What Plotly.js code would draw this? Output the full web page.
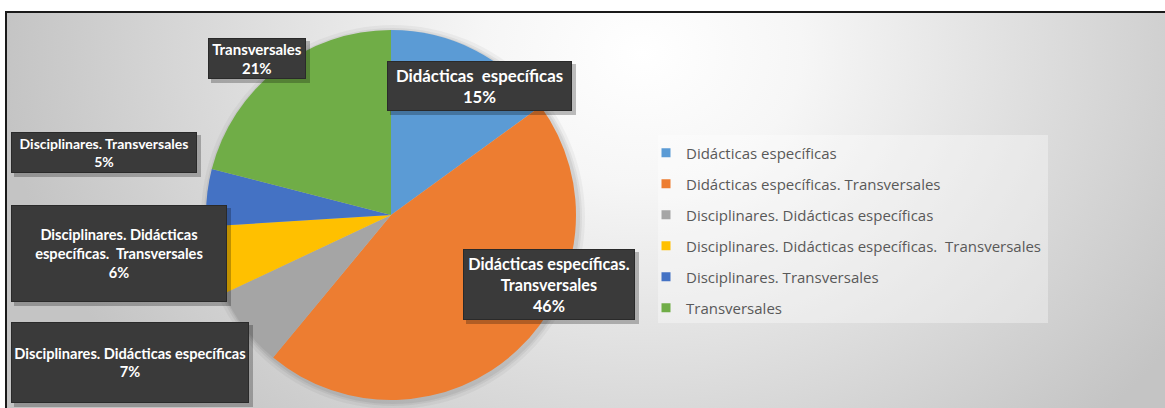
<!DOCTYPE html>
<html><head><meta charset="utf-8">
<script src="https://cdn.plot.ly/plotly-3.0.1.min.js"></script>
<style>
html,body{margin:0;padding:0;background:#fff;}
#wrap{position:relative;width:1165px;height:408px;overflow:hidden;background:#fff;}
#bg{position:absolute;left:5px;top:11px;width:1160px;height:397px;border-left:2px solid #1a1a1a;border-top:2px solid #1a1a1a;box-sizing:border-box;
background:radial-gradient(ellipse 640px 520px at 635px 40px,#ffffff 0%,#f6f6f6 25%,#c4c4c4 100%);}
#chart{position:absolute;left:0;top:0;width:1165px;height:408px;}
</style></head>
<body>
<div id="wrap"><div id="bg"></div><div id="chart"></div></div>
<script>
// ---- data ----
const categories = [
  "Didácticas específicas",
  "Didácticas específicas. Transversales",
  "Disciplinares. Didácticas específicas",
  "Disciplinares. Didácticas específicas.  Transversales",
  "Disciplinares. Transversales",
  "Transversales"
];
const values = [15, 46, 7, 6, 5, 21];
const labelLines = [
  "Didácticas  específicas",
  "Didácticas específicas.<br>Transversales",
  "Disciplinares. Didácticas específicas",
  "Disciplinares. Didácticas<br>específicas.  Transversales",
  "Disciplinares. Transversales",
  "Transversales"
];

// ---- style / layout ----
const colors = ["#5B9BD5", "#ED7D31", "#A5A5A5", "#FFC000", "#4472C4", "#70AD47"];
const W = 1165, H = 408;
const pieCx = 391, pieCy = 215, pieR = 185;
const boxes = [
  {cx: 479.5, cy: 86,    w: 185, h: 50, fs: 16.8},
  {cx: 549,   cy: 284.5, w: 172, h: 71, fs: 16.2},
  {cx: 130,   cy: 362.5, w: 238, h: 81, fs: 14.6},
  {cx: 119,   cy: 253.5, w: 216, h: 97, fs: 14.6},
  {cx: 104,   cy: 152.5, w: 186, h: 41, fs: 14},
  {cx: 257,   cy: 58.5,  w: 98,  h: 41, fs: 15}
];
const total = values.reduce((a, b) => a + b, 0);
const px = x => x / W, py = y => 1 - y / H;

const pie = {
  type: 'pie',
  labels: categories,
  values: values,
  sort: false,
  direction: 'clockwise',
  rotation: 0,
  textinfo: 'none',
  hoverinfo: 'label+percent',
  showlegend: false,
  marker: {colors: colors, line: {width: 0}},
  domain: {x: [px(pieCx - pieR), px(pieCx + pieR)], y: [py(pieCy + pieR), py(pieCy - pieR)]}
};

const legendTraces = categories.map((c, i) => ({
  type: 'scatter', x: [null], y: [null], mode: 'markers', name: c,
  legendgroup: 'g' + i, hoverinfo: 'skip',
  marker: {symbol: 'square', size: 9, color: colors[i]}
}));

const shapes = [];
// soft pie shadow
[[7, 0.04], [4, 0.05], [2, 0.06]].forEach(([d, a]) => {
  shapes.push({type: 'circle', xref: 'paper', yref: 'paper', layer: 'below',
    x0: px(pieCx - pieR - d + 2), x1: px(pieCx + pieR + d + 2),
    y0: py(pieCy + pieR + d + 2), y1: py(pieCy - pieR - d + 2),
    fillcolor: 'rgba(0,0,0,' + a + ')', line: {width: 0}});
});
// legend panel
shapes.push({type: 'rect', xref: 'paper', yref: 'paper', layer: 'below',
  x0: px(658), x1: px(1048), y0: py(323), y1: py(135),
  fillcolor: 'rgba(255,255,255,0.35)', line: {width: 0}});
// label shadows
boxes.forEach(b => {
  shapes.push({type: 'rect', xref: 'paper', yref: 'paper', layer: 'above',
    x0: px(b.cx - b.w / 2 + 3), x1: px(b.cx + b.w / 2 + 4),
    y0: py(b.cy + b.h / 2 + 4), y1: py(b.cy - b.h / 2 + 3),
    fillcolor: 'rgba(0,0,0,0.25)', line: {width: 0}});
});

const annotations = values.map((v, i) => {
  const b = boxes[i];
  return {
    xref: 'paper', yref: 'paper', x: px(b.cx), y: py(b.cy),
    xanchor: 'center', yanchor: 'middle', showarrow: false,
    text: '<b>' + labelLines[i] + '<br>' + Math.round(v / total * 100) + '%</b>',
    width: b.w - 2, height: b.h - 2, borderpad: 0,
    bgcolor: '#3a3a3a', bordercolor: '#2a2a2a', borderwidth: 1,
    font: {family: 'Lato, "Open Sans", sans-serif', size: b.fs, color: '#ffffff'},
    align: 'center', valign: 'middle'
  };
});

const layout = {
  width: W, height: H,
  margin: {l: 0, r: 0, t: 0, b: 0},
  paper_bgcolor: 'rgba(0,0,0,0)', plot_bgcolor: 'rgba(0,0,0,0)',
  xaxis: {visible: false, domain: [0.995, 1], fixedrange: true},
  yaxis: {visible: false, domain: [0.995, 1], fixedrange: true},
  showlegend: true,
  legend: {
    x: px(646), xanchor: 'left', y: py(136.5), yanchor: 'top',
    bgcolor: 'rgba(0,0,0,0)', borderwidth: 0,
    font: {family: '"Open Sans", sans-serif', size: 15, color: '#595959'},
    tracegroupgap: 8.5, itemwidth: 30, traceorder: 'grouped'
  },
  shapes: shapes,
  annotations: annotations
};

Plotly.newPlot('chart', [pie].concat(legendTraces), layout, {displayModeBar: false, staticPlot: true});
</script>
</body></html>
